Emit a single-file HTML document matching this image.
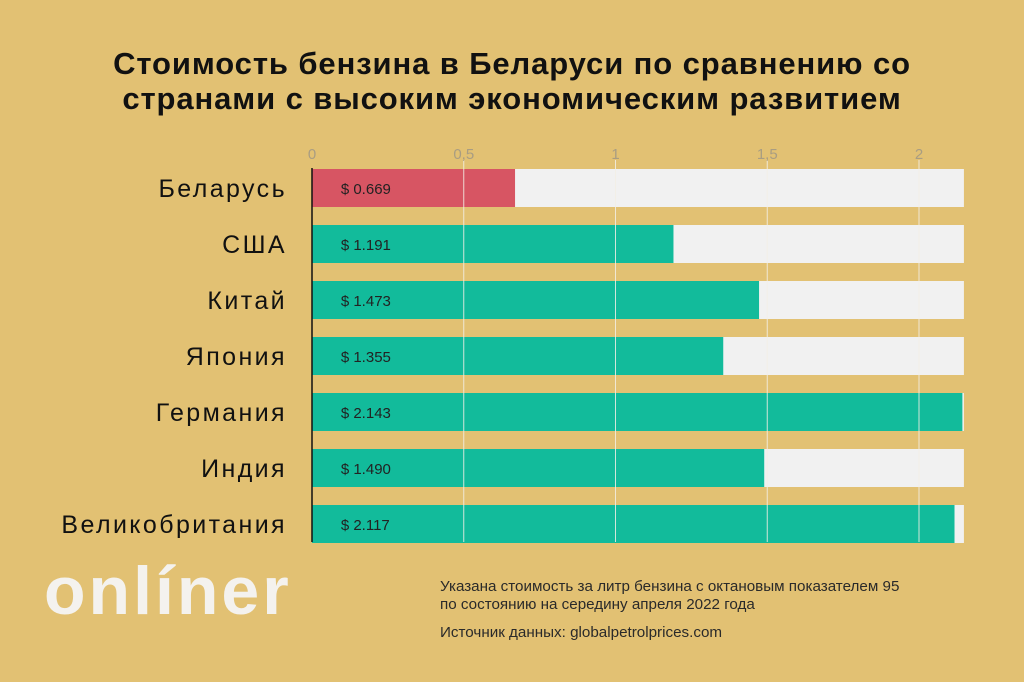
<!DOCTYPE html>
<html><head><meta charset="utf-8"><style>
html,body{margin:0;padding:0}
body{width:1024px;height:682px;background:#e2c173;position:relative;overflow:hidden;font-family:"Liberation Sans","DejaVu Sans",sans-serif}
#title{position:absolute;left:0;width:1024px;top:46px;text-align:center;font-weight:bold;font-size:31px;line-height:35px;color:#111;letter-spacing:0.9px}
#logo{position:absolute;left:44px;top:552px;font-size:68px;font-weight:bold;color:#f4f2ee;letter-spacing:3px}
.note{position:absolute;left:440px;font-size:15.2px;color:#2a2a2a;line-height:18px}
</style></head><body>
<div id="title">Стоимость бензина в Беларуси по сравнению со<br>странами с высоким экономическим развитием</div>
<svg id="chart" width="1024" height="682" style="position:absolute;left:0;top:0"></svg>
<div id="logo">onlíner</div>
<div class="note" style="top:578px">Указана стоимость за литр бензина с октановым показателем 95<br>по состоянию на середину апреля 2022 года</div>
<div class="note" style="top:624px">Источник данных: globalpetrolprices.com</div>
<script>
const countries=["Беларусь","США","Китай","Япония","Германия","Индия","Великобритания"];
const prices=[0.669,1.191,1.473,1.355,2.143,1.490,2.117];
const priceLabels=["$ 0.669","$ 1.191","$ 1.473","$ 1.355","$ 2.143","$ 1.490","$ 2.117"];
const ticks=[0,0.5,1,1.5,2];
const tickLabels=["0","0,5","1","1,5","2"];
const axisMax=2.148;
const NS="http://www.w3.org/2000/svg";
const svg=document.getElementById('chart');
const x0=312,pxPer=303.5;
const xs=v=>x0+v*pxPer;
const ys=i=>169+i*56;
const bh=38;
function mk(t,a){const e=document.createElementNS(NS,t);for(const k in a)e.setAttribute(k,a[k]);svg.appendChild(e);return e;}
countries.forEach((c,i)=>{
  const bg=mk('rect',{x:x0,y:ys(i),width:xs(axisMax)-x0,height:bh,fill:'#f1f1f1'});
  
  
  const b=mk('rect',{x:x0,y:ys(i),width:xs(prices[i])-x0,height:bh,fill:i===0?'#d75563':'#12bb9b'});
  
  
  const l=mk('text',{x:287,y:ys(i)+bh/2+9,'text-anchor':'end','font-size':25,'letter-spacing':2.4,fill:'#111'});
  l.textContent=c;
  
  
  const v=mk('text',{x:xs(0.095),y:ys(i)+bh/2+6,'font-size':15,fill:'#222'});
  v.textContent=priceLabels[i];
  
  
});
ticks.forEach((t,i)=>{
  if(t>0){const g=mk('line',{x1:xs(t),x2:xs(t),y1:160,y2:542,stroke:'#f3efe6','stroke-width':1,opacity:0.85});
  
  }
  const tl=mk('text',{x:xs(t),y:159,'text-anchor':'middle','font-size':15,fill:'#a99d82'});
  tl.textContent=tickLabels[i];
  
  
});
const ax=mk('line',{x1:x0,x2:x0,y1:168,y2:542,stroke:'#111','stroke-width':1.5});


</script>
</body></html>
